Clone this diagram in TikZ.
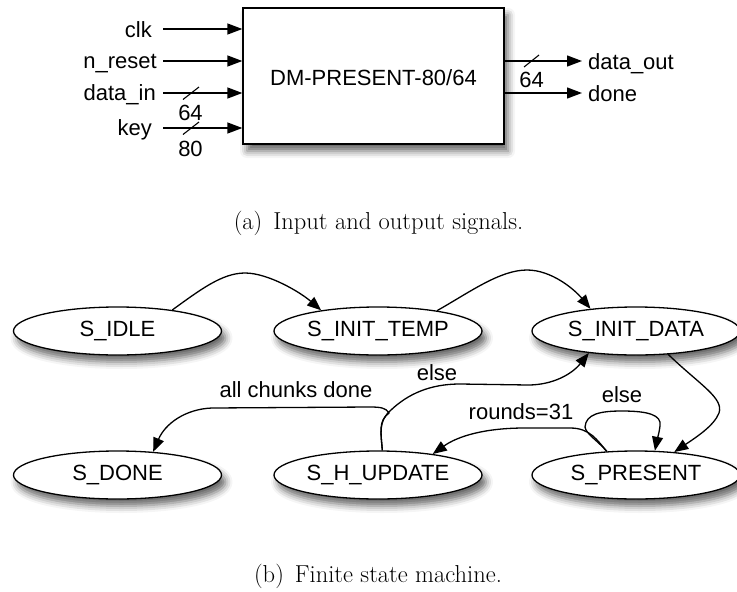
\documentclass[tikz,border=0pt]{standalone}
\usepackage{fontspec}
\setsansfont{Liberation Sans}
\usetikzlibrary{arrows.meta,shapes.geometric,shadows.blur}
\begin{document}
\begin{tikzpicture}[x=1pt,y=-1pt,
  lbl/.style={font=\sffamily\fontsize{22}{24}\selectfont, inner sep=0pt},
  captxt/.style={font=\rmfamily\fontsize{24.5}{27}\selectfont, inner sep=0pt},
  shd/.style={blur shadow={shadow xshift=4pt, shadow yshift=-7pt, shadow blur radius=7pt, shadow opacity=60}},
  state/.style={ellipse, draw, line width=1.3pt, fill=white, minimum width=208pt, minimum height=48pt, inner sep=0pt, shd, font=\sffamily\fontsize{22}{24}\selectfont},
  sig/.style={line width=1.3pt, -{Triangle[length=15pt,width=11pt]}},
  edge/.style={line width=1.3pt, -{Triangle[length=14pt,width=11pt]}},
  slash/.style={line width=1.1pt}]
\useasboundingbox (0,0) rectangle (737,592);

% ---- block diagram ----
\node[draw, line width=1.3pt, fill=white, minimum width=261pt, minimum height=136pt, inner sep=0pt, shd] (dm) at (373.5,76) {};
\node[lbl, anchor=base] (dmt) at (373.5,85) {DM-PRESENT-80/64};

\node[lbl, anchor=base east] (clk) at (152,37) {clk};
\node[lbl, anchor=base east] (nrst) at (157,68) {n\_reset};
\node[lbl, anchor=base east] (din) at (156,100.5) {data\_in};
\node[lbl, anchor=base east] (key) at (152,135.5) {key};
\coordinate (clkS) at (163,29);
\coordinate (nrstS) at (163,61);
\coordinate (dinS) at (163,93);
\coordinate (keyS) at (163,128);
\draw[sig] (clkS) -- (clkS -| dm.west);
\draw[sig] (nrstS) -- (nrstS -| dm.west);
\draw[sig] (dinS) -- (dinS -| dm.west);
\draw[sig] (keyS) -- (keyS -| dm.west);
\coordinate (s1a) at (183,99.5); \coordinate (s1b) at (199,87);
\coordinate (s2a) at (183,134.5); \coordinate (s2b) at (199,122);
\draw[slash] (s1a) -- (s1b);
\draw[slash] (s2a) -- (s2b);
\node[lbl, anchor=base] (w64a) at (190.5,120) {64};
\node[lbl, anchor=base] (w80) at (190.5,156) {80};

\coordinate (doutE) at (582,61);
\coordinate (doneE) at (582,93);
\draw[sig] (doutE -| dm.east) -- (doutE);
\draw[sig] (doneE -| dm.east) -- (doneE);
\node[lbl, anchor=base west] (dout) at (588,69) {data\_out};
\node[lbl, anchor=base west] (done) at (588,101) {done};
\coordinate (s3a) at (524,67); \coordinate (s3b) at (539,55);
\draw[slash] (s3a) -- (s3b);
\node[lbl, anchor=base] (w64b) at (531.5,87) {64};

\node[captxt, anchor=base] (capa) at (378.5,229) {(a)\hspace{0.45em}Input and output signals.};

% ---- state machine ----
\node[state] (idle) at (117.5,331) {S\_IDLE};
\node[state] (itemp) at (378,331) {S\_INIT\_TEMP};
\node[state] (idata) at (636,331) {S\_INIT\_DATA};
\node[state] (sdone) at (117.5,475) {S\_DONE};
\node[state] (hupd) at (378,475) {S\_H\_UPDATE};
\node[state] (pres) at (636,475) {S\_PRESENT};

\draw[edge] (idle.21) .. controls (200,290) and (222,273) .. (245,273)
  .. controls (268,273) and (300,292) .. (itemp.160);
\draw[edge] (itemp.19) .. controls (470,292) and (500,270) .. (527,270)
  .. controls (552,270) and (575,290) .. (idata.154);
\draw[edge] (idata.-36) .. controls (700,385) and (724,398) .. (719,413)
  .. controls (714,426) and (695,438) .. (pres.31);
\draw[edge] (pres.141) .. controls (597,440) and (586,434) .. (585,427)
  .. controls (586,414) and (600,411) .. (622,411)
  .. controls (648,411) and (662,415) .. (660,426)
  .. controls (659,434) and (657,440) .. (pres.52);
\node[lbl] (lelse2) at (622,395) {else};
\draw[edge] (pres.141) .. controls (597,440) and (590,428) .. (570,428)
  -- (525,428) .. controls (485,428) and (458,436) .. (hupd.21);
\node[lbl] (lr31) at (521,412) {rounds=31};
\draw[edge] (hupd.80) .. controls (381,433) and (378,421) .. (391,410)
  .. controls (408,394) and (430,384) .. (460,384)
  -- (528,385) .. controls (553,385) and (572,374) .. (idata.205);
\node[lbl] (lelse1) at (437,373) {else};
\draw[edge] (hupd.80) .. controls (381,433) and (378,421) .. (389,413)
  .. controls (386,408) and (381,407) .. (370,407)
  -- (212,408) .. controls (185,409) and (165,424) .. (sdone.33);
\node[lbl] (lall) at (296,390) {all chunks done};

\node[captxt, anchor=base] (capb) at (378,582) {(b)\hspace{0.45em}Finite state machine.};
\end{tikzpicture}
\end{document}
